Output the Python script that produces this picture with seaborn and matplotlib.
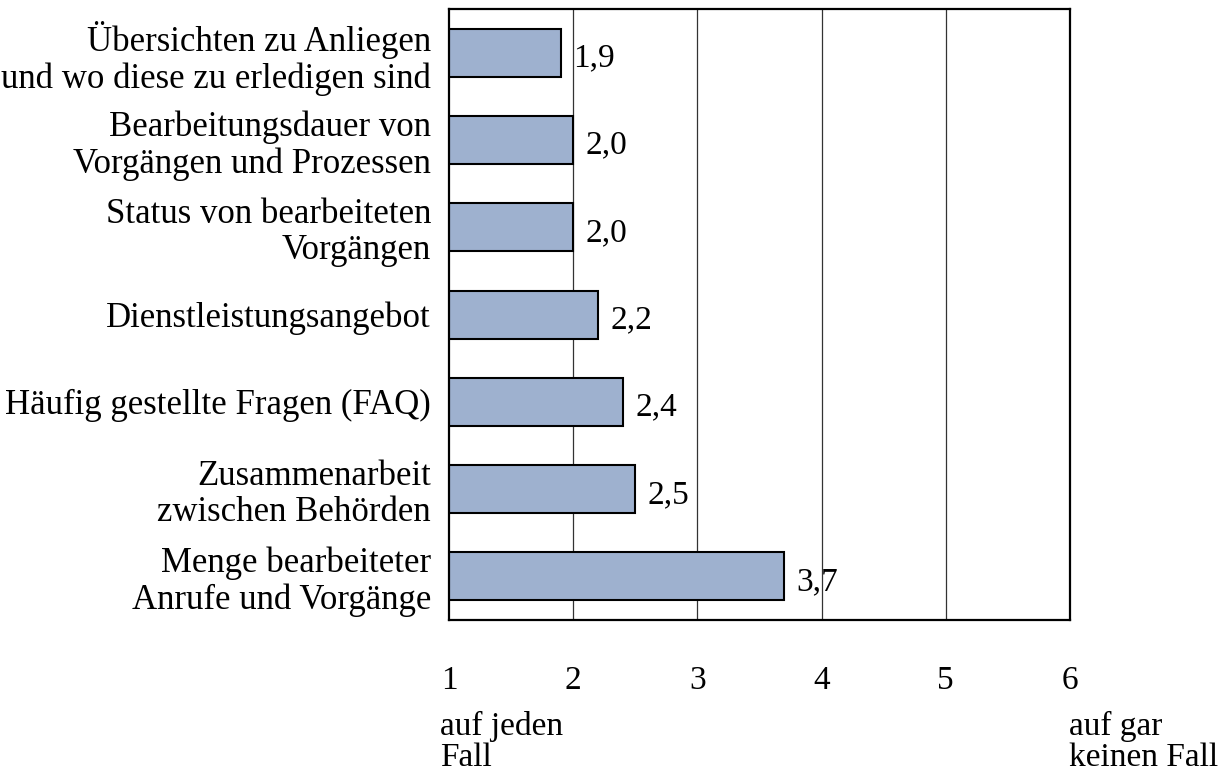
import matplotlib
matplotlib.use("Agg")
import matplotlib.pyplot as plt
import seaborn as sns
import pandas as pd

# ==========================================
# Data
# ==========================================

categories = [
    "Übersichten zu Anliegen\nund wo diese zu erledigen sind",
    "Bearbeitungsdauer von\nVorgängen und Prozessen",
    "Status von bearbeiteten\nVorgängen",
    "Dienstleistungsangebot",
    "Häufig gestellte Fragen (FAQ)",
    "Zusammenarbeit\nzwischen Behörden",
    "Menge bearbeiteter\nAnrufe und Vorgänge",
]
values = [1.9, 2.0, 2.0, 2.2, 2.4, 2.5, 3.7]
value_labels = ["1,9", "2,0", "2,0", "2,2", "2,4", "2,5", "3,7"]
x_ticks = [1, 2, 3, 4, 5, 6]
left_note = "auf jeden\nFall"
right_note = "auf gar\nkeinen Fall"

df = pd.DataFrame({"Kategorie": categories, "Wert": values})

# ==========================================
# Plot
# ==========================================

sns.set_style("white")
plt.rcParams["font.family"] = ["Liberation Serif", "DejaVu Serif"]
plt.rcParams["text.color"] = "black"
plt.rcParams["xtick.color"] = "black"
plt.rcParams["ytick.color"] = "black"

fig = plt.figure(figsize=(12.31, 7.71), dpi=100)
ax = fig.add_axes([0.3647, 0.1958, 0.5045, 0.7925])

sns.barplot(
    data=df,
    x="Wert",
    y="Kategorie",
    orient="h",
    color="#9eb1cf",
    saturation=1,
    edgecolor="black",
    linewidth=1.5,
    width=0.55,
    ax=ax,
)

ax.set_xlim(1, 6)
ax.set_xticks(x_ticks)
ax.set_xticklabels([str(t) for t in x_ticks], fontsize=24)
ax.set_xlabel("")
ax.set_ylabel("")

# vertical gridlines
for t in x_ticks[1:-1]:
    ax.axvline(t, color="#333333", linewidth=0.9, zorder=0)

ax.tick_params(axis="x", direction="out", length=9, width=1.2, pad=24)
ax.tick_params(axis="y", length=0, pad=13)
for lab in ax.get_yticklabels():
    lab.set_fontsize(25)
    lab.set_linespacing(1.13)
    lab.set_horizontalalignment("right")
    lab.set_multialignment("right")

for side in ["left", "bottom", "top", "right"]:
    ax.spines[side].set_visible(True)
    ax.spines[side].set_color("black")
    ax.spines[side].set_linewidth(1.6)

# value labels
for i, (v, lab) in enumerate(zip(values, value_labels)):
    ax.annotate(
        lab,
        xy=(v, i),
        xytext=(9, -4),
        textcoords="offset points",
        ha="left",
        va="center",
        fontsize=24,
    )

fig.text(440 / 1231, 1 - 766 / 771, left_note, ha="left", va="baseline", fontsize=24, linespacing=1.02)
fig.text(1069 / 1231, 1 - 766 / 771, right_note, ha="left", va="baseline", fontsize=24, linespacing=1.02)

fig.savefig("out.png", dpi=100)
